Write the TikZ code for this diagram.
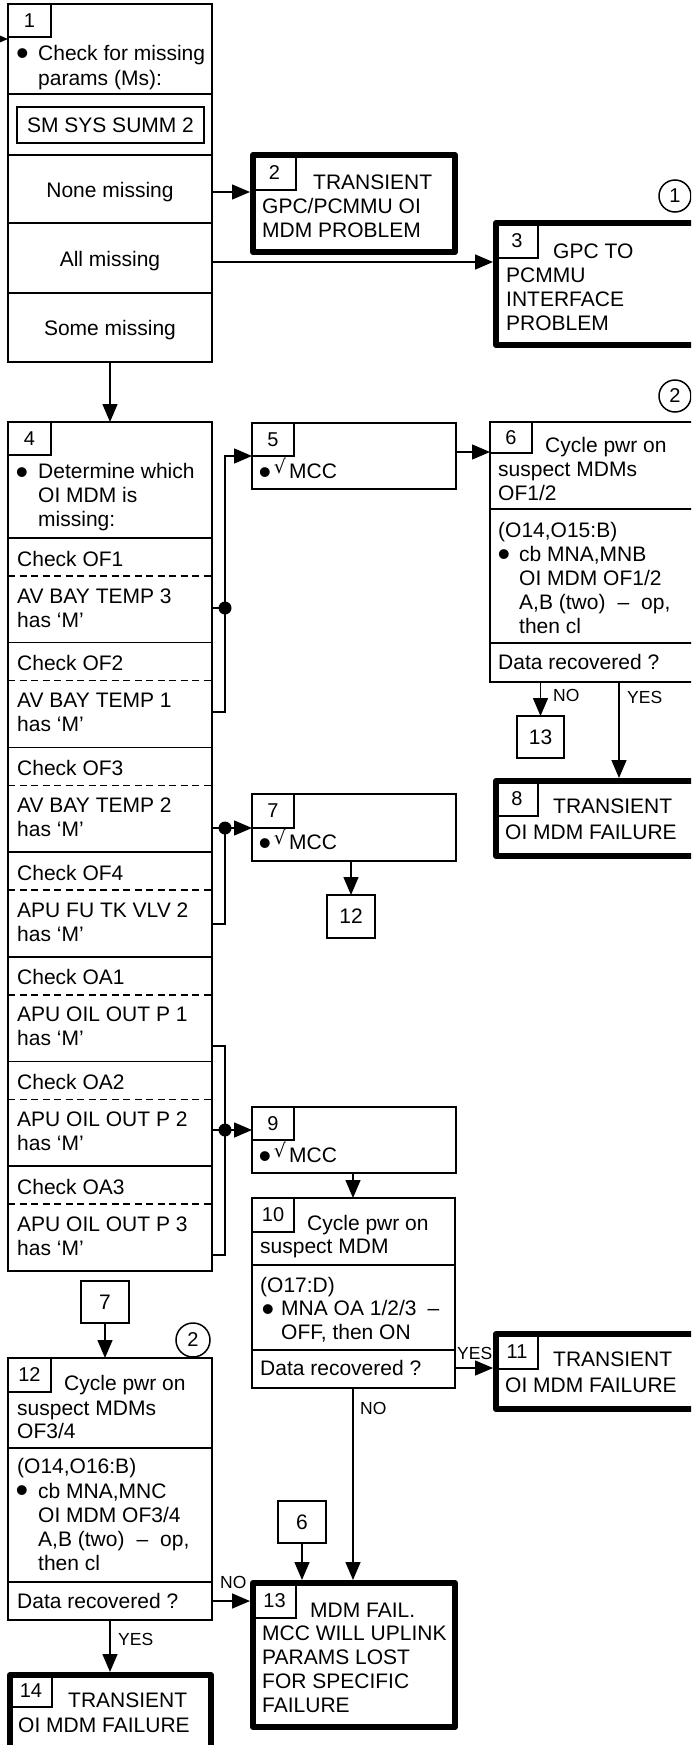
\documentclass[tikz,border=0pt]{standalone}
\usepackage{fontspec}
\setmainfont{Liberation Sans}
\newfontfamily\dejavu{DejaVu Sans}
\usetikzlibrary{arrows.meta}
\begin{document}
\begin{tikzpicture}[x=1pt,y=-1pt,
 ln/.style={line width=1.5pt},
 arr/.style={line width=1.5pt,-{Triangle[length=18pt,width=15pt]}},
 thinbox/.style={draw,line width=1.5pt,rectangle,inner sep=0pt,outer sep=0pt,anchor=north west},
 thickbox/.style={draw,line width=6pt,line join=round,rectangle,inner sep=0pt,outer sep=3pt,anchor=north west},
 numbox/.style={thinbox,font=\fontsize{20}{20}\selectfont},
 txt/.style={font=\fontsize{21}{24}\selectfont,inner sep=0pt,anchor=base west},
 ctxt/.style={font=\fontsize{21}{24}\selectfont,inner sep=0pt,anchor=base},
 lbl/.style={font=\fontsize{17.5}{18}\selectfont,inner sep=0pt,anchor=base west},
 bul/.style={font=\fontsize{36}{36}\selectfont,inner sep=0pt,anchor=center},
 chk/.style={font=\dejavu\fontsize{19}{19}\selectfont,inner sep=0pt,anchor=center},
 circ/.style={draw,circle,line width=1.5pt,inner sep=0pt,minimum size=32pt,font=\fontsize{20}{20}\selectfont},
 dsh/.style={line width=1.5pt,dash pattern=on 7pt off 4.5pt},
]
\useasboundingbox (0,0) rectangle (691,1745);
\clip (0,0) rectangle (691,1745);

% ---------- boxes ----------
\node[thinbox,minimum width=204pt,minimum height=358pt] (b1) at (8,4) {};
\node[thickbox,minimum width=202pt,minimum height=97pt] (b2) at (250,152) {};
\node[thickbox,minimum width=224pt,minimum height=122pt] (b3) at (493,220) {};
\node[thinbox,minimum width=204pt,minimum height=849pt] (b4) at (8,422) {};
\node[thinbox,minimum width=204pt,minimum height=66pt] (b5) at (252,423) {};
\node[thinbox,minimum width=230pt,minimum height=260pt] (b6) at (490,422) {};
\node[thinbox,minimum width=204pt,minimum height=67pt] (b7) at (252,794) {};
\node[thickbox,minimum width=224pt,minimum height=75pt] (b8) at (493,778) {};
\node[thinbox,minimum width=204pt,minimum height=66pt] (b9) at (252,1107) {};
\node[thinbox,minimum width=203pt,minimum height=190pt] (b10) at (252,1198) {};
\node[thickbox,minimum width=224pt,minimum height=75pt] (b11) at (493,1331) {};
\node[thinbox,minimum width=204pt,minimum height=262pt] (b12) at (8,1358) {};
\node[thickbox,minimum width=202pt,minimum height=144pt] (b13) at (250,1580) {};
\node[thickbox,minimum width=201pt,minimum height=115pt] (b14) at (7,1672) {};

% reference boxes
\node[numbox,minimum width=47pt,minimum height=42pt,font=\fontsize{21}{21}\selectfont] (r13) at (517,716) {13};
\node[numbox,minimum width=48pt,minimum height=43pt,font=\fontsize{21}{21}\selectfont] (r12) at (327,895) {12};
\node[numbox,minimum width=48pt,minimum height=42pt,font=\fontsize{21}{21}\selectfont] (r7) at (81,1281) {7};
\node[numbox,minimum width=48pt,minimum height=42pt,font=\fontsize{21}{21}\selectfont] (r6) at (278,1501) {6};

% number boxes
\node[numbox,minimum width=43pt,minimum height=33pt] (n1) at (8,4) {1};
\node[numbox,minimum width=43pt,minimum height=35pt] (n2) at (253,155) {2};
\node[numbox,minimum width=42pt,minimum height=35pt] (n3) at (496,223) {3};
\node[numbox,minimum width=43pt,minimum height=33pt] (n4) at (8,422) {4};
\node[numbox,minimum width=42pt,minimum height=33pt] (n5) at (252,423) {5};
\node[numbox,minimum width=42pt,minimum height=31pt] (n6) at (490,422) {6};
\node[numbox,minimum width=42pt,minimum height=34pt] (n7) at (252,794) {7};
\node[numbox,minimum width=42pt,minimum height=35pt] (n8) at (496,781) {8};
\node[numbox,minimum width=42pt,minimum height=33pt] (n9) at (252,1107) {9};
\node[numbox,minimum width=42pt,minimum height=34pt] (n10) at (252,1198) {10};
\node[numbox,minimum width=42pt,minimum height=35pt] (n11) at (496,1334) {11};
\node[numbox,minimum width=43pt,minimum height=34pt] (n12) at (8,1358) {12};
\node[numbox,minimum width=43pt,minimum height=35pt] (n13) at (253,1583) {13};
\node[numbox,minimum width=42pt,minimum height=32pt] (n14) at (10,1675) {14};

% circles
\node[circ] (c1) at (675,196) {1};
\node[circ] (c2a) at (675,396) {2};
\node[circ,minimum size=34pt] (c2b) at (193,1340) {2};

% ---------- box 1 ----------
\node[bul] (b1bul) at (22.5,57.5) {•};
\node[txt] (t1a) at (38,61) {Check for missing};
\node[txt] (t1b) at (38,85) {params (Ms):};
\draw[ln] (b1.west |- 0,94) -- (b1.east |- 0,94);
\node[thinbox,minimum width=187pt,minimum height=36pt,font=\fontsize{21}{24}\selectfont] (smss) at (17,107) {SM SYS SUMM 2};
\draw[ln] (b1.west |- 0,155) -- (b1.east |- 0,155);
\node[ctxt] (t1c) at (110,197) {None missing};
\draw[ln] (b1.west |- 0,223) -- (b1.east |- 0,223);
\node[ctxt] (t1d) at (110,266) {All missing};
\draw[ln] (b1.west |- 0,293) -- (b1.east |- 0,293);
\node[ctxt] (t1e) at (110,335) {Some missing};

% ---------- box 2, 3 ----------
\node[txt] (t2a) at (313,189) {TRANSIENT};
\node[txt] (t2b) at (262,213) {GPC/PCMMU OI};
\node[txt] (t2c) at (262,237) {MDM PROBLEM};
\node[txt] (t3a) at (553,258) {GPC TO};
\node[txt] (t3b) at (506,282) {PCMMU};
\node[txt] (t3c) at (506,306) {INTERFACE};
\node[txt] (t3d) at (506,330) {PROBLEM};

% ---------- box 4 ----------
\node[bul] (b4bul) at (22,476) {•};
\node[txt] (t4a) at (38,478) {Determine which};
\node[txt] (t4b) at (38,502) {OI MDM is};
\node[txt] (t4c) at (38,526) {missing:};
\foreach \k/\c/\a in {0/OF1/AV BAY TEMP 3,1/OF2/AV BAY TEMP 1,2/OF3/AV BAY TEMP 2,3/OF4/APU FU TK VLV 2,4/OA1/APU OIL OUT P 1,5/OA2/APU OIL OUT P 2,6/OA3/APU OIL OUT P 3}{
  \pgfmathsetmacro\d{538+104.7*\k}
  \draw[ln] (8,\d) -- (212,\d);
  \draw[dsh] (8,\d+38) -- (212,\d+38);
  \node[txt] (chk\k) at (17,\d+28) {Check \c};
  \node[txt] (sig\k) at (17,\d+65) {\a};
  \node[txt] (has\k) at (17,\d+89) {has ‘M’};
}

% ---------- MCC boxes ----------
\node[bul] (b5bul) at (265,476) {•};
\node[chk] (b5chk) at (280,466) {√};
\node[txt] (t5) at (289,478) {MCC};
\node[bul] (b7bul) at (265,847) {•};
\node[chk] (b7chk) at (280,837) {√};
\node[txt] (t7) at (289,849) {MCC};
\node[bul] (b9bul) at (265,1160) {•};
\node[chk] (b9chk) at (280,1150) {√};
\node[txt] (t9) at (289,1162) {MCC};

% ---------- box 6 ----------
\node[txt] (t6a) at (545,452) {Cycle pwr on};
\node[txt] (t6b) at (498,476) {suspect MDMs};
\node[txt] (t6c) at (498,500) {OF1/2};
\draw[ln] (b6.west |- 0,509) -- (b6.east |- 0,509);
\node[txt] (t6d) at (498,537) {(O14,O15:B)};
\node[bul] (b6bul) at (504,558) {•};
\node[txt] (t6e) at (519,561) {cb MNA,MNB};
\node[txt] (t6f) at (519,585) {OI MDM OF1/2};
\node[txt] (t6g) at (519,609) {A,B (two)\hspace{12pt}–\hspace{12pt}op,};
\node[txt] (t6h) at (519,633) {then cl};
\draw[ln] (b6.west |- 0,643) -- (b6.east |- 0,643);
\node[txt] (t6i) at (498,669) {Data recovered ?};

% ---------- box 8, 11, 14 ----------
\node[txt] (t8a) at (553,813) {TRANSIENT};
\node[txt] (t8b) at (505,839) {OI MDM FAILURE};
\node[txt] (t11a) at (553,1366) {TRANSIENT};
\node[txt] (t11b) at (505,1392) {OI MDM FAILURE};
\node[txt] (t14a) at (68,1707) {TRANSIENT};
\node[txt] (t14b) at (18,1732) {OI MDM FAILURE};

% ---------- box 10 ----------
\node[txt] (t10a) at (307,1230) {Cycle pwr on};
\node[txt] (t10b) at (260,1253) {suspect MDM};
\draw[ln] (b10.west |- 0,1265) -- (b10.east |- 0,1265);
\node[txt] (t10c) at (260,1292) {(O17:D)};
\node[bul] (b10bul) at (268,1313) {•};
\node[txt] (t10d) at (281,1315) {MNA OA 1/2/3\hspace{11pt}–};
\node[txt] (t10e) at (281,1339) {OFF, then ON};
\draw[ln] (b10.west |- 0,1350) -- (b10.east |- 0,1350);
\node[txt] (t10f) at (260,1375) {Data recovered ?};

% ---------- box 12 ----------
\node[txt] (t12a) at (64,1390) {Cycle pwr on};
\node[txt] (t12b) at (17,1415) {suspect MDMs};
\node[txt] (t12c) at (17,1438) {OF3/4};
\draw[ln] (b12.west |- 0,1448) -- (b12.east |- 0,1448);
\node[txt] (t12d) at (17,1473) {(O14,O16:B)};
\node[bul] (b12bul) at (22,1494.5) {•};
\node[txt] (t12e) at (38,1498) {cb MNA,MNC};
\node[txt] (t12f) at (38,1522) {OI MDM OF3/4};
\node[txt] (t12g) at (38,1546) {A,B (two)\hspace{12pt}–\hspace{12pt}op,};
\node[txt] (t12h) at (38,1570) {then cl};
\draw[ln] (b12.west |- 0,1582) -- (b12.east |- 0,1582);
\node[txt] (t12i) at (17,1608) {Data recovered ?};

% ---------- box 13 ----------
\node[txt] (t13a) at (310,1617) {MDM FAIL.};
\node[txt] (t13b) at (262,1640) {MCC WILL UPLINK};
\node[txt] (t13c) at (262,1664) {PARAMS LOST};
\node[txt] (t13d) at (262,1688) {FOR SPECIFIC};
\node[txt] (t13e) at (262,1712) {FAILURE};

% ---------- connectors ----------
\coordinate (in1) at (-20,39);
\draw[arr] (in1) -- (in1 -| b1.west);
\draw[arr] (b1.east |- 0,192) -- (b2.west |- 0,192);
\draw[arr] (b1.east |- 0,262) -- (b3.west |- 0,262);
\draw[arr] (b1.south) -- (b4.north);

\coordinate (j1) at (225,608);
\draw[arr] (b4.east |- 0,712) -| (j1) |- (b5.west);
\draw[ln] (b4.east |- j1) -- (j1);
\fill (j1) circle[radius=6.5pt];

\draw[arr] (b5.east |- 0,452) -- (b6.west |- 0,452);
\draw[arr] (r13.north |- b6.south) -- (r13.north);
\draw[arr] (b6.south -| 619,0) -- (b8.north -| 619,0);
\node[lbl] (no6) at (553,701) {NO};
\node[lbl] (yes6) at (627,703) {YES};

\coordinate (j2) at (225,828);
\draw[ln] (b4.east |- 0,924) -| (j2);
\draw[arr] (b4.east |- j2) -- (b7.west |- j2);
\fill (j2) circle[radius=6.5pt];
\draw[arr] (b7.south -| r12.north) -- (r12.north);

\coordinate (j3) at (225,1130);
\draw[ln] (b4.east |- 0,1046) -| (j3) |- (b4.east |- 0,1255);
\draw[arr] (b4.east |- j3) -- (b9.west |- j3);
\fill (j3) circle[radius=6.5pt];

\draw[arr] (b9.south -| 353,0) -- (b10.north -| 353,0);
\draw[arr] (b10.east |- 0,1368) -- (b11.west |- 0,1368);
\node[lbl] (yes10) at (457,1359) {YES};
\draw[arr] (b10.south -| 353,0) -- (b13.north -| 353,0);
\node[lbl] (no10) at (360,1414) {NO};
\draw[arr] (r6.south) -- (r6.south |- b13.north);
\draw[arr] (r7.south) -- (r7.south |- b12.north);
\draw[arr] (b12.east |- 0,1601) -- (b13.west |- 0,1601);
\node[lbl] (no12) at (220,1588) {NO};
\draw[arr] (b12.south) -- (b12.south |- b14.north);
\node[lbl] (yes12) at (118,1645) {YES};
\end{tikzpicture}
\end{document}
